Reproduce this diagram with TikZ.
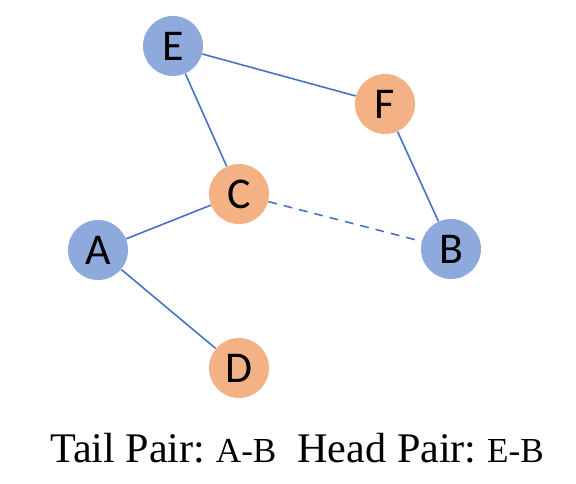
\documentclass[tikz,border=0pt]{standalone}
\usepackage{fontspec}
\setmainfont{Liberation Serif}
\newfontfamily\labelfont{Carlito}
\usepackage{xcolor}
\definecolor{nodeblue}{HTML}{8EA9DB}
\definecolor{nodeorange}{HTML}{F4B183}
\definecolor{edgeblue}{HTML}{4472C4}
\frenchspacing

\begin{document}
\begin{tikzpicture}[
            vertex/.style={circle, minimum size=1.2cm, inner sep=0pt, font=\labelfont\fontsize{25}{25}\selectfont},
            bluevertex/.style={vertex, fill=nodeblue},
            orangevertex/.style={vertex, fill=nodeorange},
            edge/.style={draw=edgeblue, line width=0.9pt},
            dashededge/.style={edge, dashed, dash pattern=on 5pt off 4pt}
        ]
            \useasboundingbox (0,0) rectangle (11.52,9.68);

            % Vertices
            \node[bluevertex] (E) at (3.46,8.76) {E};
            \node[orangevertex] (F) at (7.70,7.60) {F};
            \node[orangevertex] (C) at (4.78,5.80) {C};
            \node[bluevertex] (A) at (1.96,4.68) {A};
            \node[bluevertex] (B) at (9.02,4.70) {B};
            \node[orangevertex] (D) at (4.78,2.32) {D};

            % Edges
            \draw[edge] (E) -- (F);
            \draw[edge] (E) -- (C);
            \draw[edge] (F) -- (B);
            \draw[edge] (A) -- (C);
            \draw[edge] (A) -- (D);
            \draw[dashededge] (C) -- (B);

            % Caption
            \node[font=\fontsize{24}{28}\selectfont] (caption) at (5.94,0.72) {Tail Pair: {\fontsize{20}{22}\selectfont A-B}\ \ Head Pair: {\fontsize{20}{22}\selectfont E-B}};

        \end{tikzpicture}
\end{document}
